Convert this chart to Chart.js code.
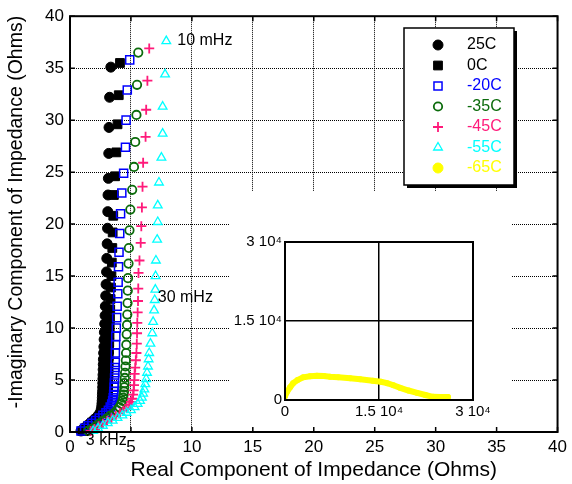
<!DOCTYPE html>
<html>
<head>
<meta charset="utf-8">
<script src="https://cdn.jsdelivr.net/npm/chart.js@4.4.0/dist/chart.umd.min.js"></script>
<style>
  body { margin: 0; background: #fff; }
  #wrap { position: relative; width: 572px; height: 484px; }
  #main { display: block; }
  #inset { position: absolute; left: 230px; top: 191px; background: #fff; }
</style>
</head>
<body>
<div id="wrap">
  <canvas id="main" width="572" height="484"></canvas>
  <canvas id="inset" width="281" height="236"></canvas>
</div>
<script>
// Nyquist data (real / -imaginary, Ohms)
const re25 = [0.9, 1.1, 1.35, 1.6, 1.85, 2.1, 2.3, 2.45, 2.55, 2.6, 2.62, 2.64, 2.65, 2.66, 2.67, 2.68, 2.69, 2.7, 2.71, 2.72, 2.73, 2.74, 2.76, 2.78, 2.8, 2.82, 2.85, 2.88, 2.9, 2.93, 2.96, 3.0, 3.02, 3.05, 3.08, 3.1, 3.12, 3.15, 3.18, 3.2, 3.25, 3.35];
const im25 = [0.1, 0.3, 0.55, 0.8, 1.05, 1.3, 1.55, 1.8, 2.1, 2.4, 2.7, 3.0, 3.3, 3.6, 3.9, 4.3, 4.7, 5.1, 5.5, 6.0, 6.5, 7.0, 7.6, 8.2, 8.9, 9.6, 10.4, 11.2, 12.1, 13.1, 14.2, 15.4, 16.7, 18.1, 19.6, 21.2, 22.8, 24.4, 26.8, 29.3, 32.2, 35.1];

const re0 = [1.0, 1.25, 1.5, 1.8, 2.1, 2.4, 2.65, 2.85, 2.98, 3.05, 3.08, 3.1, 3.11, 3.12, 3.13, 3.14, 3.15, 3.16, 3.17, 3.18, 3.2, 3.22, 3.24, 3.26, 3.28, 3.3, 3.33, 3.36, 3.4, 3.43, 3.47, 3.5, 3.55, 3.6, 3.7, 3.8, 3.9, 4.0, 4.1];
const im0 = [0.1, 0.35, 0.6, 0.9, 1.2, 1.5, 1.8, 2.1, 2.4, 2.7, 3.0, 3.4, 3.8, 4.2, 4.6, 5.1, 5.6, 6.1, 6.7, 7.3, 7.9, 8.6, 9.3, 10.1, 10.9, 11.8, 12.8, 13.9, 15.0, 16.3, 17.7, 19.2, 20.8, 22.8, 24.6, 26.9, 29.6, 32.4, 35.5];

const re20 = [0.9, 1.2, 1.5, 1.8, 2.1, 2.4, 2.7, 2.95, 3.15, 3.3, 3.42, 3.5, 3.55, 3.58, 3.6, 3.62, 3.64, 3.66, 3.68, 3.7, 3.71, 3.72, 3.74, 3.76, 3.8, 3.83, 3.87, 3.92, 3.95, 3.98, 4.02, 4.08, 4.15, 4.25, 4.4, 4.55, 4.6, 4.7, 4.9];
const im20 = [0.1, 0.35, 0.6, 0.85, 1.1, 1.35, 1.6, 1.85, 2.1, 2.4, 2.7, 3.0, 3.3, 3.6, 3.9, 4.3, 4.7, 5.2, 5.7, 6.2, 6.7, 7.6, 8.4, 9.2, 10.0, 11.0, 12.1, 13.3, 14.4, 15.9, 17.3, 19.1, 21.0, 23.0, 24.9, 27.4, 30.0, 32.9, 35.8];

const re35 = [1.5, 1.8, 2.1, 2.4, 2.7, 3.0, 3.3, 3.6, 3.85, 4.05, 4.2, 4.3, 4.36, 4.4, 4.43, 4.45, 4.47, 4.5, 4.52, 4.55, 4.58, 4.6, 4.62, 4.65, 4.68, 4.7, 4.72, 4.74, 4.76, 4.8, 4.83, 4.88, 4.95, 5.1, 5.25, 5.35, 5.45, 5.5, 5.6];
const im35 = [0.1, 0.3, 0.55, 0.8, 1.05, 1.3, 1.55, 1.8, 2.1, 2.4, 2.7, 3.0, 3.3, 3.6, 3.9, 4.3, 4.7, 5.2, 5.7, 6.3, 6.9, 7.6, 8.4, 9.4, 10.3, 11.3, 12.4, 13.6, 14.8, 16.2, 17.7, 19.4, 21.4, 23.3, 25.5, 27.9, 30.5, 33.4, 36.5];

const re45 = [1.7, 2.0, 2.35, 2.7, 3.05, 3.4, 3.75, 4.1, 4.4, 4.65, 4.85, 5.0, 5.1, 5.18, 5.22, 5.25, 5.28, 5.3, 5.35, 5.4, 5.45, 5.48, 5.5, 5.52, 5.55, 5.58, 5.6, 5.62, 5.7, 5.8, 5.85, 5.9, 5.95, 6.0, 6.2, 6.25, 6.35, 6.5];
const im45 = [0.1, 0.3, 0.55, 0.8, 1.05, 1.3, 1.55, 1.8, 2.05, 2.3, 2.6, 2.9, 3.2, 3.6, 4.0, 4.5, 5.0, 5.6, 6.2, 6.9, 7.6, 8.5, 9.5, 10.5, 11.5, 12.6, 13.8, 15.3, 16.5, 18.2, 19.8, 21.6, 23.6, 25.9, 28.4, 31.0, 33.8, 36.9];

const re55 = [1.9, 2.3, 2.7, 3.1, 3.5, 3.9, 4.3, 4.65, 5.0, 5.3, 5.55, 5.75, 5.9, 6.0, 6.1, 6.18, 6.25, 6.32, 6.4, 6.45, 6.5, 6.6, 6.75, 6.82, 6.9, 6.95, 7.0, 7.02, 7.05, 7.15, 7.2, 7.2, 7.3, 7.5, 7.6, 7.6, 7.8, 7.9];
const im55 = [0.1, 0.35, 0.6, 0.85, 1.1, 1.35, 1.6, 1.85, 2.1, 2.4, 2.7, 3.0, 3.3, 3.7, 4.1, 4.6, 5.1, 5.7, 6.3, 7.0, 7.6, 8.5, 9.5, 10.6, 11.7, 12.7, 13.7, 15.0, 16.5, 18.5, 20.2, 21.8, 24.0, 26.4, 28.7, 31.3, 34.4, 37.6];

// -65C only shows in the inset (much larger scale)
const re65 = [0, 300, 800, 1300, 2000, 2900, 4000, 5100, 6200, 7200, 8500, 10400, 12000, 14000, 15300, 16300, 17300, 18400, 19700, 21100, 22400, 23600, 24800, 26000];
const im65 = [700, 1500, 2400, 3200, 3800, 4300, 4500, 4600, 4550, 4400, 4300, 4150, 3950, 3650, 3450, 3200, 2800, 2300, 1800, 1350, 950, 600, 550, 550];

const seriesNames = ['25C', '0C', '-20C', '-35C', '-45C', '-55C', '-65C'];
const mainTicks = [0, 5, 10, 15, 20, 25, 30, 35, 40];
const insetTicks = [0, 15000, 30000];
const insetTickLabels = ['0', '1.5 10\u2074', '3 10\u2074'];
const notes = [
  { text: '10 mHz', x: 8.8, y: 37.7 },
  { text: '30 mHz', x: 7.2, y: 12.9 },
  { text: '3 kHz', x: 1.3, y: -0.8 }
];

const FONT = "'Liberation Sans', Arial, Helvetica, sans-serif";
Chart.defaults.font.family = FONT;
Chart.defaults.color = '#000';

const colors = ['#000000', '#000000', '#0000ff', '#0b6b0b', '#ff1a7a', '#00ffff', '#ffff00'];
const markers = [
  { style: 'circle', r: 5, fill: '#000', bw: 1 },
  { style: 'rect', r: 6.2, fill: '#000', bw: 1 },
  { style: 'rect', r: 5.7, fill: 'rgba(0,0,0,0)', bw: 1.5 },
  { style: 'circle', r: 4.2, fill: 'rgba(0,0,0,0)', bw: 1.8 },
  { style: 'cross', r: 5, fill: 'rgba(0,0,0,0)', bw: 1.8 },
  { style: 'triangle', r: 5, fill: 'rgba(0,0,0,0)', bw: 1.3 },
  { style: 'circle', r: 5, fill: '#ffff00', bw: 1 }
];

function pts(xs, ys) {
  return xs.map((x, i) => ({ x: x, y: ys[i] }));
}

let mainData = [[re25, im25], [re0, im0], [re20, im20], [re35, im35], [re45, im45], [re55, im55]];
let mainSets = mainData.map((d, i) => ({
  label: seriesNames[i],
  data: pts(d[0], d[1]),
  pointStyle: markers[i].style,
  pointRadius: markers[i].r,
  backgroundColor: markers[i].fill,
  borderColor: colors[i],
  borderWidth: markers[i].bw,
  clip: false,
  order: 6 - i
}));

//frame, inward ticks, notes and legend box
const decor = {
  id: 'decor',
  afterDraw(chart) {
    const { ctx, chartArea: a, scales: { x, y } } = chart;
    ctx.save();
    ctx.strokeStyle = '#000';
    ctx.lineWidth = 2;
    ctx.strokeRect(a.left, a.top, a.right - a.left, a.bottom - a.top);
    ctx.lineWidth = 1.5;
    ctx.beginPath();
    mainTicks.forEach((v) => {
      let px = x.getPixelForValue(v);
      let py = y.getPixelForValue(v);
      ctx.moveTo(px, a.bottom); ctx.lineTo(px, a.bottom - 5);
      ctx.moveTo(px, a.top); ctx.lineTo(px, a.top + 5);
      ctx.moveTo(a.left, py); ctx.lineTo(a.left + 5, py);
      ctx.moveTo(a.right, py); ctx.lineTo(a.right - 5, py);
    });
    ctx.stroke();

    // axis titles
    ctx.fillStyle = '#000';
    ctx.textAlign = 'center';
    ctx.textBaseline = 'middle';
    ctx.font = '21px ' + FONT;
    ctx.fillText('Real Component of Impedance (Ohms)', (a.left + a.right) / 2, 470);
    ctx.save();
    ctx.translate(17, 212);
    ctx.rotate(-Math.PI / 2);
    ctx.font = '19.5px ' + FONT;
    ctx.fillText('-Imaginary Component of Impedance (Ohms)', 0, 0);
    ctx.restore();

    // frequency notes
    ctx.textAlign = 'left';
    ctx.font = '16px ' + FONT;
    notes.forEach((n) => {
      ctx.fillText(n.text, x.getPixelForValue(n.x), y.getPixelForValue(n.y));
    });

    // legend
    let lx = 404, ly = 28, lw = 110, lh = 157;
    ctx.fillStyle = '#000';
    ctx.fillRect(lx + 3, ly + 3, lw, lh);
    ctx.fillStyle = '#fff';
    ctx.fillRect(lx, ly, lw, lh);
    ctx.lineWidth = 1.5;
    ctx.strokeStyle = '#000';
    ctx.strokeRect(lx, ly, lw, lh);
    seriesNames.forEach((name, i) => {
      let ry = ly + 17 + i * 20.5;
      let m = markers[i];
      ctx.fillStyle = m.fill;
      ctx.strokeStyle = colors[i];
      ctx.lineWidth = m.bw;
      Chart.helpers.drawPoint(ctx, { pointStyle: m.style, radius: m.r, borderWidth: m.bw, rotation: 0 }, lx + 34, ry);
      ctx.fillStyle = colors[i];
      ctx.font = '16px ' + FONT;
      ctx.textBaseline = 'middle';
      ctx.fillText(name, lx + 63, ry);
    });
    ctx.restore();
  }
};

new Chart(document.getElementById('main'), {
  type: 'scatter',
  data: { datasets: mainSets },
  options: {
    responsive: false,
    animation: false,
    devicePixelRatio: 1,
    layout: { padding: { top: 16, right: 10, left: 0, bottom: 0 } },
    plugins: { legend: { display: false }, tooltip: { enabled: false } },
    scales: {
      x: {
        type: 'linear', min: 0, max: 40,
        afterBuildTicks: (s) => { s.ticks = mainTicks.map((v) => ({ value: v })); },
        ticks: { font: { size: 17 }, padding: 5, maxRotation: 0, autoSkip: false },
        grid: { color: '#000', lineWidth: 1, drawTicks: false },
        border: { display: false, dash: [1, 1] },
        afterFit: (s) => { s.height = 52; }
      },
      y: {
        type: 'linear', min: 0, max: 40,
        afterBuildTicks: (s) => { s.ticks = mainTicks.map((v) => ({ value: v })); },
        ticks: { font: { size: 17 }, padding: 6, autoSkip: false },
        grid: { color: '#000', lineWidth: 1, drawTicks: false },
        border: { display: false, dash: [1, 1] },
        afterFit: (s) => { s.width = 70; }
      }
    }
  },
  plugins: [decor]
});

// inset frame
const insetFrame = {
  id: 'insetFrame',
  afterDraw(chart) {
    const { ctx, chartArea: a } = chart;
    ctx.save();
    ctx.strokeStyle = '#000';
    ctx.lineWidth = 2;
    ctx.strokeRect(a.left, a.top, a.right - a.left, a.bottom - a.top);
    ctx.restore();
  }
};

function midGrid(c) {
  return c.tick && c.tick.value === 15000 ? '#000' : 'rgba(0,0,0,0)';
}

new Chart(document.getElementById('inset'), {
  type: 'scatter',
  data: {
    datasets: [{
      label: seriesNames[6],
      data: pts(re65, im65),
      showLine: true,
      borderColor: colors[6],
      borderWidth: 6,
      borderCapStyle: 'round',
      pointRadius: 3,
      pointBorderWidth: 0,
      backgroundColor: colors[6]
    }]
  },
  options: {
    responsive: false,
    animation: false,
    devicePixelRatio: 1,
    layout: { padding: { top: 51, right: 38, left: 0, bottom: 0 } },
    plugins: { legend: { display: false }, tooltip: { enabled: false } },
    scales: {
      x: {
        type: 'linear', min: 0, max: 30000,
        afterBuildTicks: (s) => { s.ticks = insetTicks.map((v) => ({ value: v })); },
        ticks: { font: { size: 15 }, padding: 3, maxRotation: 0, autoSkip: false, callback: (v, i) => insetTickLabels[i] },
        grid: { color: midGrid, lineWidth: 1.5, drawTicks: false },
        border: { display: false },
        afterFit: (s) => { s.height = 27; }
      },
      y: {
        type: 'linear', min: 0, max: 30000,
        afterBuildTicks: (s) => { s.ticks = insetTicks.map((v) => ({ value: v })); },
        ticks: { font: { size: 15 }, padding: 3, autoSkip: false, callback: (v, i) => insetTickLabels[i] },
        grid: { color: midGrid, lineWidth: 1.5, drawTicks: false },
        border: { display: false },
        afterFit: (s) => { s.width = 55; }
      }
    }
  },
  plugins: [insetFrame]
});
</script>
</body>
</html>
